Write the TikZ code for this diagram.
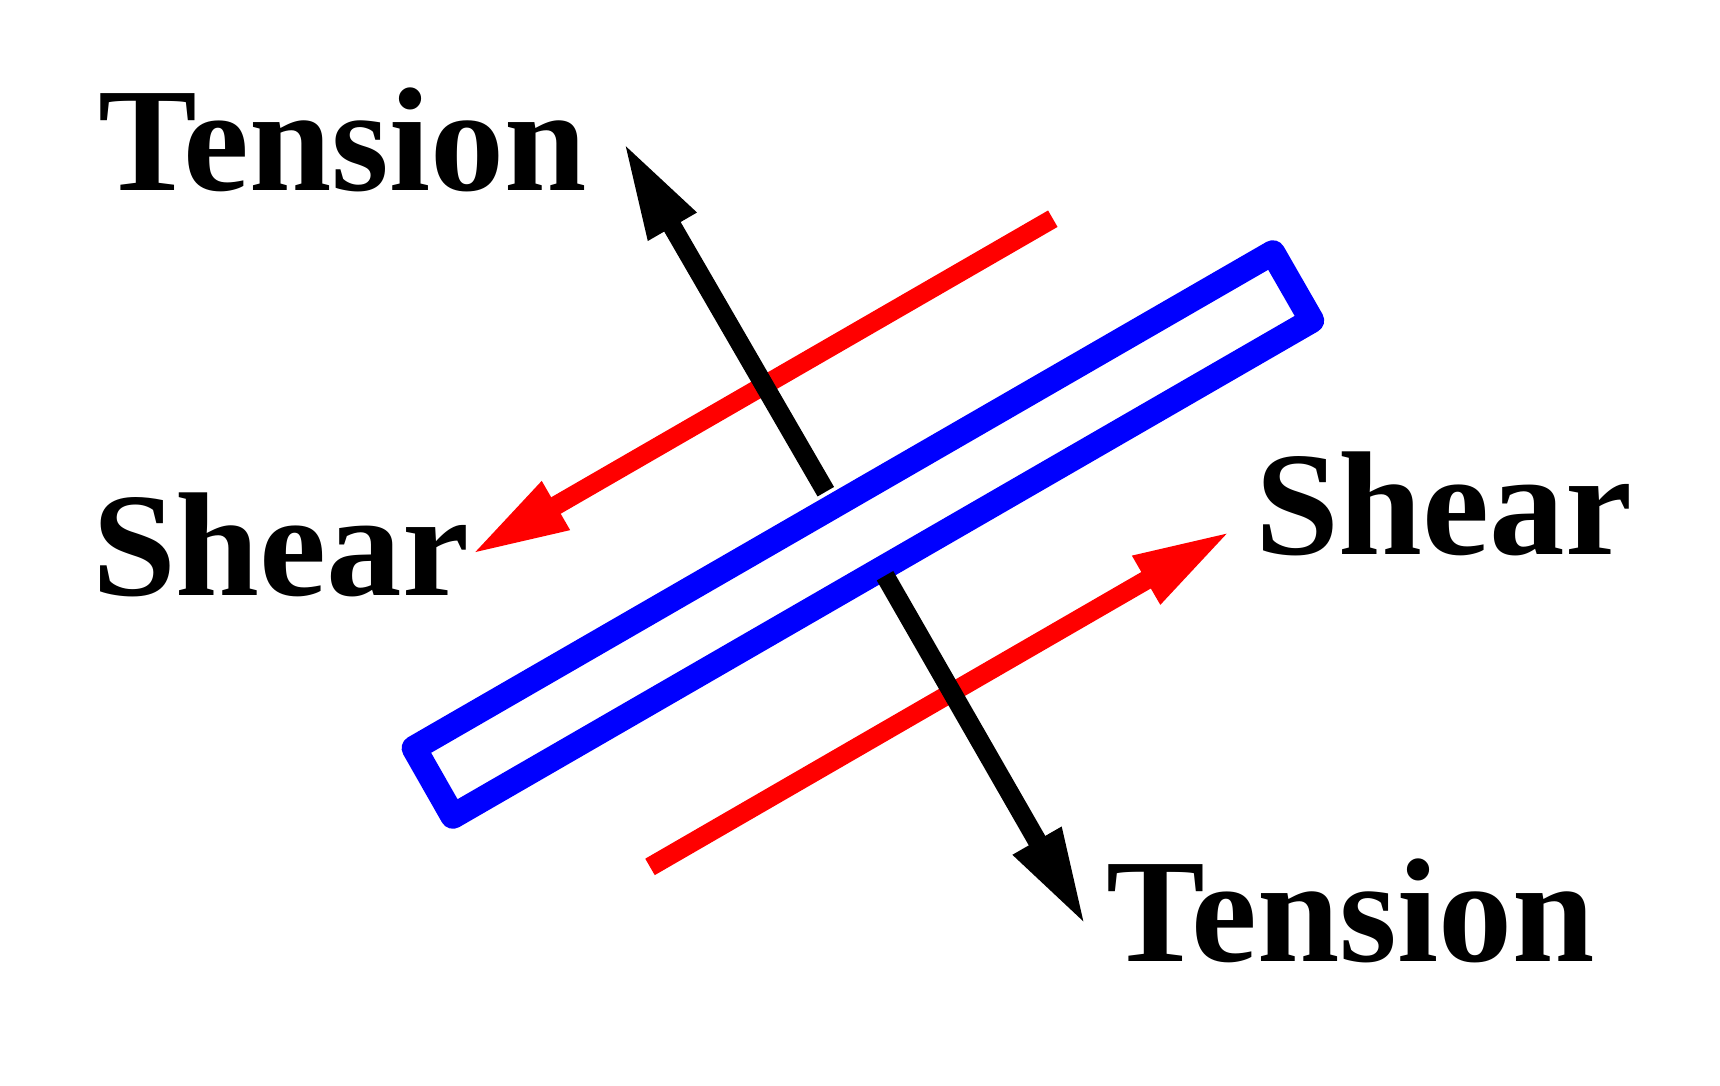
\documentclass[tikz,border=0pt]{standalone}
\usepackage{fontspec}
\setmainfont{Liberation Serif}
\usetikzlibrary{arrows.meta}
\tikzset{
  lbl/.style={inner sep=0pt,outer sep=0pt,anchor=base west,font=\fontsize{148}{148}\selectfont\bfseries},
  force/.style={line width=19pt,line cap=butt,-{Triangle[length=99pt,width=50.5pt]}},
  plate/.style={draw=blue,line width=25pt,line join=round},
}
\begin{document}
\begin{tikzpicture}[x=1pt,y=-1pt]
\useasboundingbox (0,0) rectangle (1720,1086);
\fill[white] (0,0) rectangle (1720,1086);
\coordinate (r1s) at (1052.8,218.7);
\coordinate (r1e) at (470.2,555);
\coordinate (r2s) at (650,866.9);
\coordinate (r2e) at (1231.8,530.7);
\coordinate (k1s) at (825.8,491.7);
\coordinate (k1e) at (622.8,141.1);
\coordinate (k2s) at (885,575.7);
\coordinate (k2e) at (1086.3,926.5);
\coordinate (pa) at (1272.8,252.7);
\coordinate (pb) at (1311.7,320.5);
\coordinate (pc) at (452.9,816.3);
\coordinate (pd) at (414.1,748.2);
\draw[force,red] (r1s) -- (r1e);
\draw[force,red] (r2s) -- (r2e);
\draw[plate] (pa) -- (pb) -- (pc) -- (pd) -- cycle;
\draw[force,black] (k1s) -- (k1e);
\draw[force,black] (k2s) -- (k2e);
\node[lbl] (t1) at (98.5,190.5) {Tension};
\node[lbl] (t2) at (1106.5,961.5) {Tension};
\node[lbl] (s1) at (92,595.5) {\scalebox{1.02}[1]{Shear}};
\node[lbl] (s2) at (1255,554.9) {\scalebox{1.02}[1]{Shear}};
\end{tikzpicture}
\end{document}
